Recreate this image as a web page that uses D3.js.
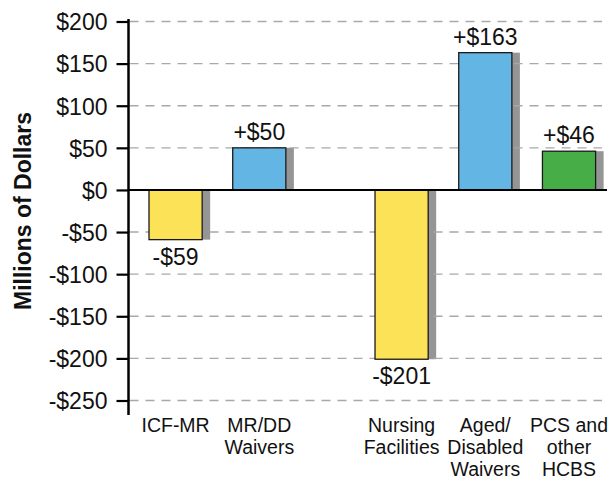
<!DOCTYPE html>
<html>
<head>
<meta charset="utf-8">
<script src="https://cdn.jsdelivr.net/npm/d3@7"></script>
<style>
  body { margin: 0; background: #fff; }
  text { font-family: "Liberation Sans", Arial, Helvetica, sans-serif; fill: #111; }
</style>
</head>
<body>
<div id="chart"></div>
<script>
// data
var categories = ["ICF-MR", "MR/DD Waivers", "Nursing Facilities", "Aged/ Disabled Waivers", "PCS and other HCBS"];
var categoryLines = [["ICF-MR"], ["MR/DD", "Waivers"], ["Nursing", "Facilities"], ["Aged/", "Disabled", "Waivers"], ["PCS and", "other", "HCBS"]];
var values = [-59, 50, -201, 163, 46];
var valueLabels = ["-$59", "+$50", "-$201", "+$163", "+$46"];
var groups = [0, 0, 1, 1, 1];
var colors = ["#fce257", "#63b6e4", "#fce257", "#63b6e4", "#47ae47"];
var yTicks = [200, 150, 100, 50, 0, -50, -100, -150, -200, -250];

var width = 613, height = 481;

var svg = d3.select("#chart")
    .append("svg")
    .attr("width", width)
    .attr("height", height);

var yScale = d3.scaleLinear()
    .domain([-250, 200])
    .range([400.5, 21.5]);

var xScale = d3.scaleBand()
    .domain(categories)
    .range([149, 537])
    .paddingInner(0.365)
    .paddingOuter(0);

var groupGap = xScale.step() * 0.7;

function barX(d, i) { return xScale(categories[i]) + groups[i] * groupGap; }

var axisX = 128.5;

// shadows
svg.selectAll("rect.shadow")
    .data(values)
    .enter()
    .append("rect")
    .attr("class", "shadow")
    .attr("x", function(d, i) { return barX(d, i) + 8; })
    .attr("y", function(d) { return yScale(Math.max(0, d)); })
    .attr("width", xScale.bandwidth())
    .attr("height", function(d) { return Math.abs(yScale(d) - yScale(0)); })
    .attr("fill", "#959595");

// gridlines
svg.selectAll("line.grid")
    .data(yTicks.filter(function(t) { return t !== 0; }))
    .enter()
    .append("line")
    .attr("class", "grid")
    .attr("x1", axisX + 1)
    .attr("x2", 602)
    .attr("y1", function(d) { return yScale(d); })
    .attr("y2", function(d) { return yScale(d); })
    .attr("stroke", "#a8a8a8")
    .attr("stroke-width", 1.4)
    .attr("stroke-dasharray", "9,7");

// bars
svg.selectAll("rect.bar")
    .data(values)
    .enter()
    .append("rect")
    .attr("class", "bar")
    .attr("x", function(d, i) { return barX(d, i); })
    .attr("y", function(d) { return yScale(Math.max(0, d)); })
    .attr("width", xScale.bandwidth())
    .attr("height", function(d) { return Math.abs(yScale(d) - yScale(0)); })
    .attr("fill", function(d, i) { return colors[i]; })
    .attr("stroke", "#1a1a1a")
    .attr("stroke-width", 1.3);

// zero line
svg.append("line")
    .attr("x1", axisX)
    .attr("x2", 607)
    .attr("y1", yScale(0))
    .attr("y2", yScale(0))
    .attr("stroke", "#000")
    .attr("stroke-width", 2);

// y axis
var yAxis = svg.append("g")
    .attr("transform", "translate(" + axisX + ",0)")
    .call(d3.axisLeft(yScale)
        .tickValues(yTicks)
        .tickSize(12)
        .tickSizeOuter(0)
        .tickPadding(9)
        .tickFormat(function(d) { return (d < 0 ? "-$" : "$") + Math.abs(d); }));

yAxis.select(".domain").remove();
yAxis.selectAll(".tick line").attr("stroke", "#000").attr("stroke-width", 2.2);
yAxis.selectAll(".tick text")
    .attr("font-size", "23px")
    .attr("fill", "#111")
    .attr("dy", "0.36em");

svg.append("line")
    .attr("x1", axisX)
    .attr("x2", axisX)
    .attr("y1", 19)
    .attr("y2", 415)
    .attr("stroke", "#000")
    .attr("stroke-width", 2.5);

// value labels
svg.selectAll("text.value")
    .data(values)
    .enter()
    .append("text")
    .attr("class", "value")
    .attr("x", function(d, i) { return barX(d, i) + xScale.bandwidth() / 2; })
    .attr("y", function(d) { return d >= 0 ? yScale(d) - 8 : yScale(d) + 25; })
    .attr("text-anchor", "middle")
    .attr("font-size", "23px")
    .text(function(d, i) { return valueLabels[i]; });

// category labels
var catLabels = svg.selectAll("text.cat")
    .data(categoryLines)
    .enter()
    .append("text")
    .attr("class", "cat")
    .attr("text-anchor", "middle")
    .attr("font-size", "19.5px")
    .attr("transform", function(d, i) {
        return "translate(" + (barX(values[i], i) + xScale.bandwidth() / 2) + ",432)";
    });

catLabels.selectAll("tspan")
    .data(function(d) { return d; })
    .enter()
    .append("tspan")
    .attr("x", 0)
    .attr("y", function(d, j) { return j * 22; })
    .text(function(d) { return d; });

// y axis title
svg.append("text")
    .attr("transform", "translate(31,211) rotate(-90)")
    .attr("text-anchor", "middle")
    .attr("font-size", "23px")
    .attr("font-weight", "bold")
    .text("Millions of Dollars");
</script>
</body>
</html>
